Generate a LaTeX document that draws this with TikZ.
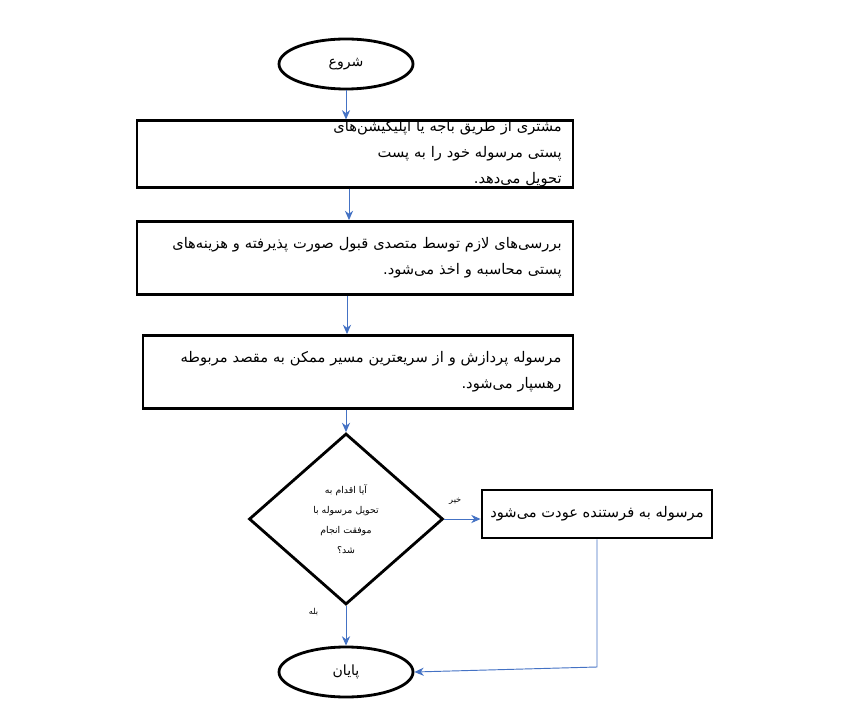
\documentclass[tikz,border=0pt]{standalone}
\usepackage{fontspec}
\usetikzlibrary{shapes.geometric,arrows.meta}
\newfontfamily\farsi[Script=Arabic]{DejaVu Sans}
\TeXXeTstate=1
\definecolor{pfeilblau}{RGB}{68,114,196}
\newcommand{\rtl}[1]{\beginR #1\endR}
\tikzset{
	kasten/.style={draw, line width=2.4pt, rectangle, inner sep=0pt, font=\farsi\fontsize{12.5}{22}\selectfont},
	oval/.style={draw, line width=2.4pt, ellipse, minimum width=4.02cm, minimum height=1.5cm, font=\farsi\fontsize{12}{12}\selectfont},
	pfeil/.style={-{Stealth[length=8pt,width=7pt]}, pfeilblau, line width=0.8pt}
}
\begin{document}
\begin{tikzpicture}[x=0.03cm,y=-0.03cm]
	\useasboundingbox (0,0) rectangle (867,711);

	% Start und Ende
	\node[oval] (start) at (346,64) {\rtl{شروع}};
	\node[oval] (ende) at (346,672) {\rtl{پایان}};

	% Prozessschritte
	\node[kasten, minimum width=13.08cm, minimum height=1.92cm, align=right, text width=12.4cm] (schritt1) at (355,154)
	{\rtl{مشتری از طریق باجه یا اپلیکیشن‌های پستی مرسوله خود را به پست}\\ \rtl{تحویل می‌دهد.}};
	\node[kasten, minimum width=13.08cm, minimum height=2.19cm, align=right, text width=12.4cm] (schritt2) at (355,258)
	{\rtl{بررسی‌های لازم توسط متصدی قبول صورت پذیرفته و هزینه‌های}\\ \rtl{پستی محاسبه و اخذ می‌شود.}};
	\node[kasten, minimum width=12.9cm, minimum height=2.19cm, align=right, text width=12.2cm] (schritt3) at (358,372)
	{\rtl{مرسوله پردازش و از سریعترین مسیر ممکن به مقصد مربوطه}\\ \rtl{رهسپار می‌شود.}};

	% Entscheidung
	\node[draw, line width=2.4pt, diamond, inner sep=0pt, minimum width=5.82cm, minimum height=5.13cm, align=center, font=\farsi\fontsize{8}{17}\selectfont] (frage) at (346,519)
	{\rtl{آیا اقدام به}\\ \rtl{تحویل مرسوله با}\\ \rtl{موفقت انجام}\\ \rtl{شد؟}};
	\node[kasten, minimum width=6.9cm, minimum height=1.44cm] (rueck) at (597,514)
	{\rtl{مرسوله به فرستنده عودت می‌شود}};

	% Pfeile
	\draw[pfeil] (start.south) -- (start.south |- schritt1.north);
	\draw[pfeil] (schritt1.south -| 349,0) -- (schritt2.north -| 349,0);
	\draw[pfeil] (schritt2.south -| 347,0) -- (schritt3.north -| 347,0);
	\draw[pfeil] (schritt3.south -| frage.north) -- (frage.north);
	\draw[pfeil] (frage.east) -- (rueck.west |- frage.east) node[pos=0.3, above=9pt, black, font=\farsi\fontsize{7}{7}\selectfont] {\rtl{خیر}};
	\draw[pfeil] (frage.south) -- (ende.north) node[pos=0.15, left=20pt, black, font=\farsi\fontsize{7}{7}\selectfont] {\rtl{بله}};
	\draw[pfeil] (rueck.south) -- (597,667) -- (ende.east);
\end{tikzpicture}
\end{document}
